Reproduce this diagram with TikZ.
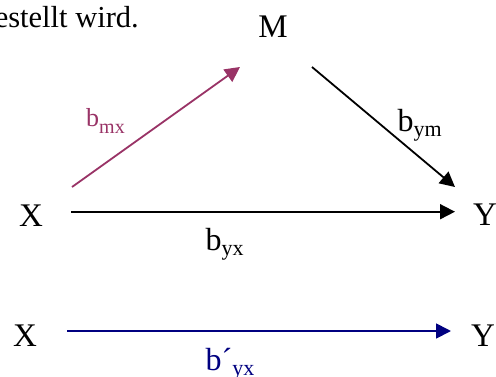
\documentclass[tikz,border=0pt]{standalone}
\usepackage{fontspec}
\setmainfont{Liberation Serif}
\usetikzlibrary{arrows.meta}
\definecolor{plum}{HTML}{993366}
\definecolor{navyblue}{HTML}{000080}
\tikzset{
  var/.style={inner sep=0pt, anchor=base, font=\fontsize{33}{33}\selectfont},
  lbl/.style={inner sep=0pt, anchor=base west, font=\fontsize{32}{32}\selectfont},
  conn/.style={line width=1.8pt, -{Triangle[length=15pt,width=15pt]}},
}
\newcommand{\subtxt}[2]{\raisebox{-#1pt}{\fontsize{22}{22}\selectfont #2}}
\begin{document}
\begin{tikzpicture}[x=1pt,y=-1pt]
\useasboundingbox (0,0) rectangle (496,376);
\node[inner sep=0pt, anchor=base east, font=\fontsize{30.5}{30.5}\selectfont] (txt) at (139,27) {estellt wird.};
\node[var] (M) at (273,37) {M};
\node[var] (X1) at (31,226) {X};
\node[var] (Y1) at (485,225) {Y};
\node[var] (X2) at (25,346) {X};
\node[var] (Y2) at (483,346) {Y};
\coordinate (mxs) at (72,187);
\coordinate (mxe) at (240,67);
\coordinate (yms) at (312,67);
\coordinate (yme) at (455,187);
\coordinate (yxs) at (71,211.7);
\coordinate (yxe) at (455,211.7);
\coordinate (pxs) at (67,331);
\coordinate (pxe) at (451,331);
\draw[conn, plum] (mxs) -- (mxe);
\draw[conn] (yms) -- (yme);
\draw[conn] (yxs) -- (yxe);
\draw[conn, navyblue] (pxs) -- (pxe);
\node[lbl, text=plum, font=\fontsize{26}{26}\selectfont] (bmx) at (86,126.7) {b\raisebox{-7pt}{\fontsize{20}{20}\selectfont mx}};
\node[lbl] (bym) at (397.5,131.7) {b\subtxt{5}{ym}};
\node[lbl] (byx) at (205.5,250) {b\subtxt{5}{yx}};
\node[lbl, text=navyblue] (bpyx) at (205.5,370) {b´\subtxt{5}{yx}};
\end{tikzpicture}
\end{document}
